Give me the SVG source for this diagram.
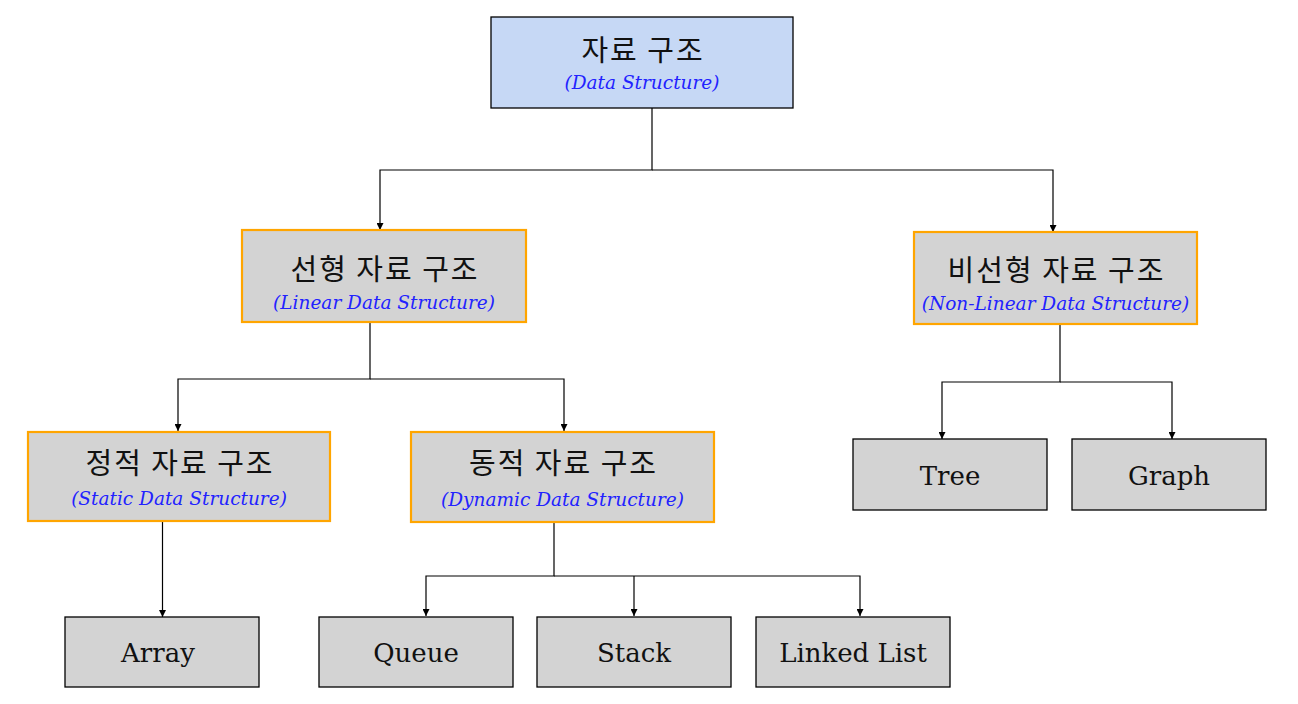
<svg xmlns="http://www.w3.org/2000/svg" width="1298" height="704" viewBox="0 0 1298 704">
<style>
.bg{fill:#ffffff}
.root{fill:#c6d8f5;stroke:#000;stroke-width:1.3}
.mid{fill:#d3d3d3;stroke:#ffa500;stroke-width:2.2}
.leaf{fill:#d3d3d3;stroke:#000;stroke-width:1.3}
.ko{font-family:"Noto Sans CJK KR","Noto Sans",sans-serif;font-size:29px;letter-spacing:2px;fill:#111;text-anchor:middle}
.sub{font-family:"DejaVu Serif","Liberation Serif",serif;font-style:italic;font-size:18.5px;fill:#2222ff;text-anchor:middle}
.lf{font-family:"DejaVu Serif","Liberation Serif",serif;font-size:26px;fill:#111;text-anchor:middle}
.edge{fill:none;stroke:#000;stroke-width:1.2}
</style>
<defs>
<marker id="arr" viewBox="0 0 8 8" refX="8" refY="4" markerWidth="7" markerHeight="7" markerUnits="userSpaceOnUse" orient="auto">
<path d="M0,0 L8,4 L0,8 Z" fill="#000"/>
</marker>
</defs>
<rect class="bg" x="0" y="0" width="1298" height="704"/>
<g id="connectors">
<path class="edge" d="M652,108 V170 H380 V230" marker-end="url(#arr)"/>
<path class="edge" d="M652,170 H1053 V232" marker-end="url(#arr)"/>
<path class="edge" d="M370,322 V379 H178 V431" marker-end="url(#arr)"/>
<path class="edge" d="M370,379 H564 V431" marker-end="url(#arr)"/>
<path class="edge" d="M1060,325 V382 H942 V439" marker-end="url(#arr)"/>
<path class="edge" d="M1060,382 H1172 V439" marker-end="url(#arr)"/>
<path class="edge" d="M162.5,521 V617" marker-end="url(#arr)"/>
<path class="edge" d="M554,522 V576 H426 V616" marker-end="url(#arr)"/>
<path class="edge" d="M554,576 H860 V616" marker-end="url(#arr)"/>
<path class="edge" d="M634,576 V616" marker-end="url(#arr)"/>
</g>
<g id="root">
<rect class="root" x="491" y="17" width="302" height="91"/>
<text class="ko" x="643" y="61">자료 구조</text>
<text class="sub" x="642" y="89">(Data Structure)</text>
</g>
<g id="linear">
<rect class="mid" x="242" y="230" width="284" height="92"/>
<text class="ko" x="385" y="280">선형 자료 구조</text>
<text class="sub" x="384" y="309">(Linear Data Structure)</text>
</g>
<g id="nonlinear">
<rect class="mid" x="914" y="232" width="283" height="92"/>
<text class="ko" x="1056.5" y="281">비선형 자료 구조</text>
<text class="sub" x="1055.5" y="310">(Non-Linear Data Structure)</text>
</g>
<g id="static">
<rect class="mid" x="28" y="432" width="302" height="89"/>
<text class="ko" x="180" y="474">정적 자료 구조</text>
<text class="sub" x="179" y="505">(Static Data Structure)</text>
</g>
<g id="dynamic">
<rect class="mid" x="411" y="432" width="303" height="90"/>
<text class="ko" x="563.5" y="474">동적 자료 구조</text>
<text class="sub" x="562.5" y="506">(Dynamic Data Structure)</text>
</g>
<g id="tree">
<rect class="leaf" x="853" y="439" width="194" height="71"/>
<text class="lf" x="950" y="485">Tree</text>
</g>
<g id="graph">
<rect class="leaf" x="1072" y="439" width="194" height="71"/>
<text class="lf" x="1169" y="485">Graph</text>
</g>
<g id="array">
<rect class="leaf" x="65" y="617" width="194" height="70"/>
<text class="lf" x="158" y="662">Array</text>
</g>
<g id="queue">
<rect class="leaf" x="319" y="617" width="194" height="70"/>
<text class="lf" x="416" y="662">Queue</text>
</g>
<g id="stack">
<rect class="leaf" x="537" y="617" width="194" height="70"/>
<text class="lf" x="634" y="662">Stack</text>
</g>
<g id="linkedlist">
<rect class="leaf" x="756" y="617" width="194" height="70"/>
<text class="lf" x="853" y="662">Linked List</text>
</g>
</svg>
